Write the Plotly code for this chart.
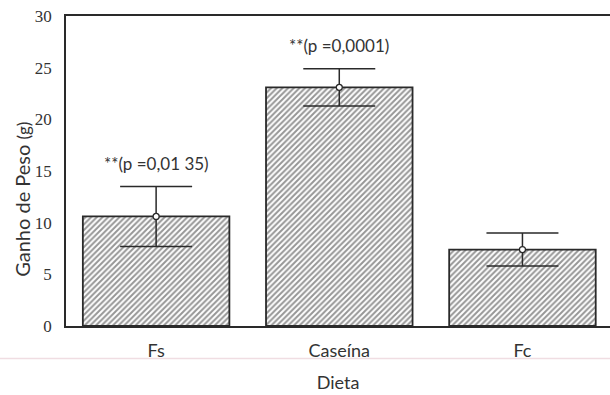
import plotly.graph_objects as go

# Weight gain by diet (mean ± error)
dietas = ["Fs", "Caseína", "Fc"]
ganho = [10.6, 23.1, 7.4]
erro = [2.9, 1.8, 1.6]
p_labels = ["**(p =0,01 35)", "**(p =0,0001)", ""]

ink = "#2a2a2a"
font_txt = "Lato, 'Open Sans', sans-serif"

fig = go.Figure()

fig.add_trace(go.Bar(
    x=dietas, y=ganho, width=0.8,
    marker=dict(
        color="white",
        line=dict(color=ink, width=1.8),
        pattern=dict(shape="/", size=4, solidity=0.5, fgcolor="#2e2e2e", bgcolor="white"),
    ),
    error_y=dict(type="data", array=erro, visible=True, color=ink, thickness=1.5, width=36),
    showlegend=False,
))

# mean markers
fig.add_trace(go.Scatter(
    x=dietas, y=ganho, mode="markers",
    marker=dict(symbol="circle", size=6, color="white", line=dict(width=1.3, color=ink)),
    showlegend=False, hoverinfo="skip",
))

# significance labels above the error bars
for d, v, e, t in zip(dietas, ganho, erro, p_labels):
    if t:
        fig.add_annotation(x=d, y=v + e, text=t, showarrow=False, yshift=23,
                           font=dict(family=font_txt, size=17, color="#333333"))

# y-axis title
fig.add_annotation(xref="paper", yref="paper", x=-0.081, y=0.41, textangle=-90,
                   xanchor="center", yanchor="middle",
                   text="Ganho de Peso <span style='font-size:17px'>(g)</span>",
                   showarrow=False, font=dict(family=font_txt, size=20, color="#333333"))

# faint fold line across the page
fig.add_shape(type="line", xref="paper", yref="paper", x0=-0.2, x1=1.0,
              y0=-0.105, y1=-0.105, line=dict(color="#f0dde2", width=1.5))

fig.update_layout(
    width=610, height=395,
    margin=dict(l=66, r=0, t=16, b=69),
    paper_bgcolor="white", plot_bgcolor="white",
    font=dict(family=font_txt, color="#333333"),
    bargap=0.2,
    xaxis=dict(
        range=[-0.492, 2.478], showline=True, linecolor=ink, linewidth=1.6,
        mirror=True, ticks="", showgrid=False,
        tickfont=dict(size=18, color="#333333"),
        ticklabelstandoff=8,
        title=dict(text="Dieta", font=dict(size=18, color="#333333"), standoff=16),
    ),
    yaxis=dict(
        range=[0, 30], tickvals=[0, 5, 10, 15, 20, 25, 30], showline=True,
        linecolor=ink, linewidth=1.6, ticks="", showgrid=False, zeroline=False,
        tickfont=dict(family="'Liberation Serif', serif", size=17, color="#333333"),
        ticklabelstandoff=9,
    ),
)

fig.write_html("out.html")
